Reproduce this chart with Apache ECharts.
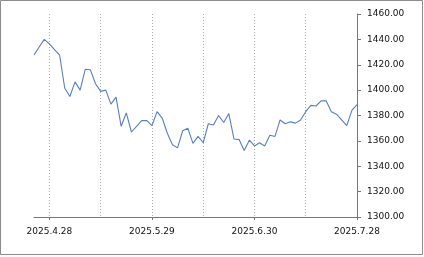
<!DOCTYPE html>
<html>
<head>
<meta charset="utf-8">
<script src="https://cdn.jsdelivr.net/npm/echarts@6/dist/echarts.min.js"></script>
<style>
html,body{margin:0;padding:0;background:#fff;}
#c{width:424px;height:257px;}
</style>
</head>
<body>
<div id="c"></div>
<script>
const dates = [
  "2025.4.23","2025.4.24","2025.4.25","2025.4.28","2025.4.29","2025.4.30","2025.5.6","2025.5.7",
  "2025.5.8","2025.5.9","2025.5.12","2025.5.13","2025.5.14","2025.5.15","2025.5.16","2025.5.19",
  "2025.5.20","2025.5.21","2025.5.22","2025.5.23","2025.5.26","2025.5.27","2025.5.28","2025.5.29",
  "2025.5.30","2025.6.3","2025.6.4","2025.6.5","2025.6.6","2025.6.9","2025.6.10","2025.6.11",
  "2025.6.12","2025.6.13","2025.6.16","2025.6.17","2025.6.18","2025.6.19","2025.6.20","2025.6.23",
  "2025.6.24","2025.6.25","2025.6.26","2025.6.30","2025.7.1","2025.7.2","2025.7.3","2025.7.4",
  "2025.7.7","2025.7.8","2025.7.9","2025.7.10","2025.7.11","2025.7.14","2025.7.15","2025.7.16",
  "2025.7.17","2025.7.18","2025.7.21","2025.7.22","2025.7.23","2025.7.24","2025.7.25","2025.7.28"
];
const values = [
  1427.7,1434,1440,1436.5,1432,1427.5,1401.5,1395,
  1406.5,1400,1416.5,1416,1405,1399,1400,1389,
  1394.5,1371.5,1382,1367,1371.5,1376,1376,1372,
  1383,1378,1366,1357,1354.5,1368,1370,1358,
  1363.5,1358.5,1373.5,1372.5,1380,1374.5,1381.5,1361.5,
  1361,1352.5,1360.5,1356,1358.5,1356,1364.5,1363.5,
  1376.5,1373.5,1375,1374,1376.5,1383,1388,1387.5,
  1391.5,1391.5,1383,1381,1376.5,1372,1384,1388.5
];
const yMin = 1300, yMax = 1460, yStep = 20;

const chart = echarts.init(document.getElementById('c'), null, {renderer:'canvas'});
const labelIdx = i => (i - 3) % 20 === 0 && i >= 3;
const gridIdx = i => (i - 3) % 10 === 0 && i >= 3;
chart.setOption({
  animation:false,
  backgroundColor:'#fff',
  graphic:[{type:'rect', shape:{x:0.5,y:0.5,width:422,height:254}, style:{fill:'none', stroke:'#8c8c8c', lineWidth:1}, silent:true}],
  grid:{left:34, right:67, top:14, bottom:40},
  xAxis:{
    type:'category', data:dates, boundaryGap:false,
    axisLine:{show:true, lineStyle:{color:'#777', width:1}},
    axisTick:{show:true, interval:labelIdx, length:3, lineStyle:{color:'#777'}},
    axisLabel:{interval:labelIdx, color:'#111', fontFamily:'DejaVu Sans', fontSize:9, margin:10},
    splitLine:{show:true, interval:gridIdx, lineStyle:{color:'#aaa', type:[1,2], width:1}}
  },
  yAxis:{
    type:'value', position:'right', min:yMin, max:yMax, interval:yStep,
    axisLine:{show:true, lineStyle:{color:'#777', width:1}},
    axisTick:{show:true, length:4, lineStyle:{color:'#777'}},
    axisLabel:{formatter:v=>v.toFixed(2), color:'#111', fontFamily:'DejaVu Sans', fontSize:9, margin:10},
    splitLine:{show:false}
  },
  series:[{
    type:'line', data:values, symbol:'none', smooth:false,
    lineStyle:{color:'#5580c4', width:1.1}
  }]
});
</script>
</body>
</html>
